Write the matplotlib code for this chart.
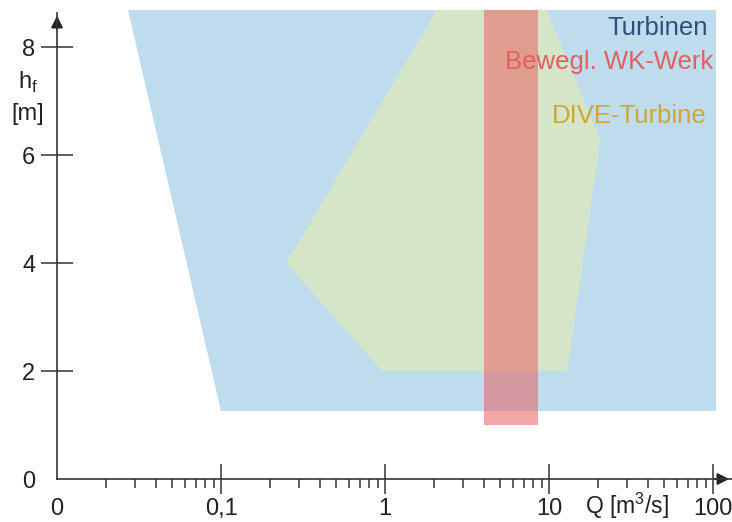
import matplotlib
matplotlib.use('Agg')
from matplotlib import pyplot as plt
from matplotlib.ticker import FixedLocator, NullFormatter

plt.rcParams['font.family'] = ['Liberation Sans', 'DejaVu Sans']

# areas of application, Q in m^3/s, h in m
turb_q = [0.027, 104, 104, 0.1]
turb_h = [8.69, 8.69, 1.26, 1.26]

dive_q = [2.07, 9.7, 20.5, 12.9, 0.96, 0.25]
dive_h = [8.69, 8.69, 6.28, 2.0, 2.0, 4.0]

wk_q = [4.0, 8.5, 8.5, 4.0]
wk_h = [8.69, 8.69, 1.0, 1.0]

labels = ['Turbinen', 'Bewegl. WK-Werk', 'DIVE-Turbine']
label_colors = ['#2b5079', '#e2605c', '#cfa634']

x_ticks = [0.01, 0.1, 1, 10, 100]
x_ticklabels = ['0', '0,1', '1', '10', '100']
y_ticks = [0, 2, 4, 6, 8]

fig = plt.figure(figsize=(7.32, 5.22), dpi=100)
ax = fig.add_axes([57 / 732, 43 / 522, 675 / 732, 466 / 522])
ax.set_xscale('log')
ax.set_xlim(0.01, 10 ** 2.115)
ax.set_ylim(0, 8.63)

ax.fill(turb_q, turb_h, color='#bfdcef', lw=0, clip_on=False, zorder=1)
ax.fill(dive_q, dive_h, color='#d5e6c8', lw=0, clip_on=False, zorder=2)
ax.fill(wk_q, wk_h, color='#e86060', alpha=0.55, lw=0, clip_on=False, zorder=3)

ypos = [8.35, 7.72, 6.72]
xpos = [93, 100, 91]
for t, c, x, y in zip(labels, label_colors, xpos, ypos):
    ax.text(x, y, t, color=c, fontsize=18.5, ha='right', va='center', zorder=5)

# axes look
for s in ['top', 'right']:
    ax.spines[s].set_visible(False)
for s in ['left', 'bottom']:
    ax.spines[s].set_color('#333333')
    ax.spines[s].set_linewidth(1.2)
    ax.spines[s].set_zorder(6)

ax.xaxis.set_major_locator(FixedLocator(x_ticks))
ax.set_xticklabels(x_ticklabels)
minors = [m * d for d in [0.01, 0.1, 1, 10] for m in range(2, 10)]
ax.xaxis.set_minor_locator(FixedLocator(minors))
ax.xaxis.set_minor_formatter(NullFormatter())
ax.set_yticks(y_ticks)

ax.tick_params(axis='x', which='major', direction='inout', length=21.6, width=1.1,
               color='#333333', labelsize=17, labelcolor='#222222', pad=3)
ax.tick_params(axis='x', which='minor', direction='out', length=6.5, width=1.1,
               color='#333333')
ax.tick_params(axis='y', which='major', direction='inout', length=23, width=1.1,
               color='#333333', labelsize=17, labelcolor='#222222', pad=4)
ax.xaxis.get_major_ticks()[0].tick1line.set_visible(False)
ax.yaxis.get_major_ticks()[0].tick1line.set_visible(False)

# arrows at axis ends
arrow = dict(arrowstyle='-|>', color='#222222', lw=1.2, mutation_scale=18)
ax.annotate('', xy=(1.0, 0), xycoords='axes fraction', xytext=(0.97, 0),
            arrowprops=arrow, annotation_clip=False)
ax.annotate('', xy=(0, 1.0), xycoords='axes fraction', xytext=(0, 0.96),
            arrowprops=arrow, annotation_clip=False)

# axis titles
fig.text(627 / 732, 1 - 506 / 522, 'Q [m$^\\mathregular{3}$/s]', fontsize=16.5,
         color='#222222', ha='center', va='center')
fig.text(28 / 732, 1 - 82 / 522, 'h$_\\mathregular{f}$', fontsize=17,
         color='#222222', ha='center', va='center')
fig.text(28 / 732, 1 - 114 / 522, '[m]', fontsize=17, color='#222222',
         ha='center', va='center')

fig.savefig('out.png', dpi=100)
